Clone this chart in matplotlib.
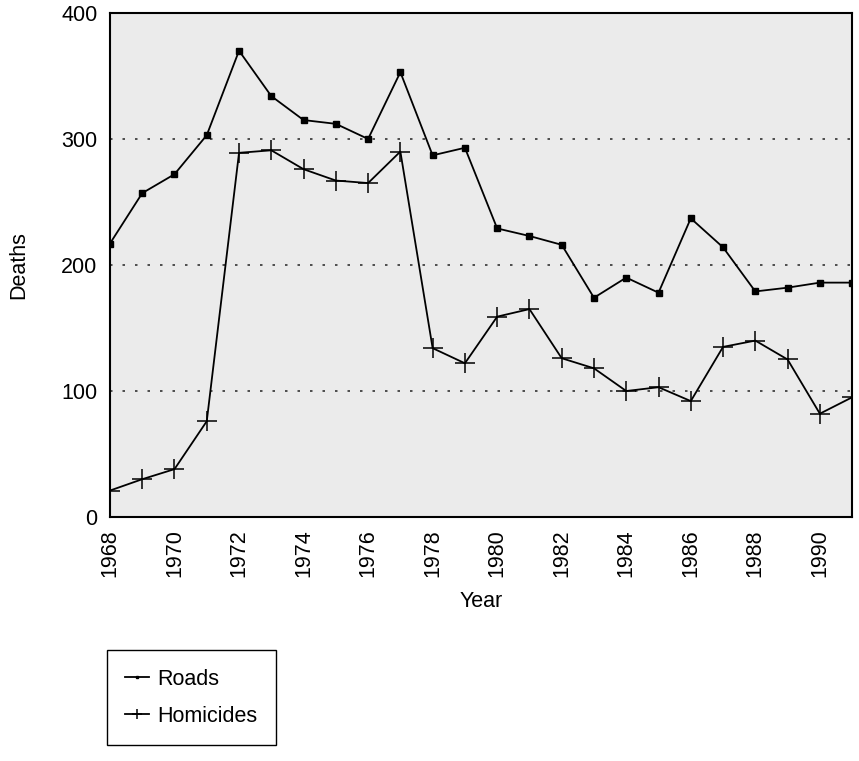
import numpy as np
import matplotlib
matplotlib.use('Agg')
import matplotlib.pyplot as plt

plt.rcParams['font.family'] = ['Liberation Sans', 'DejaVu Sans']
plt.rcParams['font.size'] = 15.5

# data
years = list(range(1968, 1992))
roads = [217, 257, 272, 303, 370, 334, 315, 312, 300, 353, 287, 293,
         229, 223, 216, 174, 190, 178, 237, 214, 179, 182, 186, 186]
homicides = [21, 30, 38, 76, 289, 291, 276, 267, 265, 290, 134, 122,
             159, 165, 126, 118, 100, 103, 92, 135, 140, 125, 82, 95]
tick_years = list(range(1968, 1991, 2))
y_ticks = [0, 100, 200, 300, 400]

fig = plt.figure(figsize=(8.59, 7.61), dpi=100)
ax = fig.add_axes([0.128, 0.3206, 0.864, 0.6624])
ax.set_facecolor('#ebebeb')

# dotted reference lines
for yv in [100, 200, 300]:
    ax.axhline(yv, color='#333333', linewidth=1.2, linestyle=(0, (1.5, 6)), zorder=1)

l1, = ax.plot(years, roads, color='black', linewidth=1.3, marker='s',
              markersize=4, label='Roads', zorder=3)
l2, = ax.plot(years, homicides, color='black', linewidth=1.3, marker='+',
              markersize=15, markeredgewidth=1.1, label='Homicides', zorder=3)

ax.set_xlim(1968, 1991)
ax.set_ylim(0, 400)
ax.set_xticks(tick_years)
ax.set_xticklabels([str(t) for t in tick_years], rotation=90)
ax.set_yticks(y_ticks)
ax.tick_params(length=0, pad=9, labelsize=15.5)
ax.set_xlabel('Year', fontsize=15.5, labelpad=10)
ax.set_ylabel('Deaths', fontsize=15.5, labelpad=23)
for s in ax.spines.values():
    s.set_linewidth(1.5)

leg = fig.legend(handles=[l1, l2], loc='lower left',
                 bbox_to_anchor=(0.1246, 0.021), borderaxespad=0,
                 fancybox=False, edgecolor='black', framealpha=1,
                 handlelength=1.1, handletextpad=0.4, borderpad=0.85,
                 labelspacing=0.75, fontsize=15.5, markerscale=0.5)
leg.get_frame().set_linewidth(1.0)

fig.savefig('out.png', dpi=100)
